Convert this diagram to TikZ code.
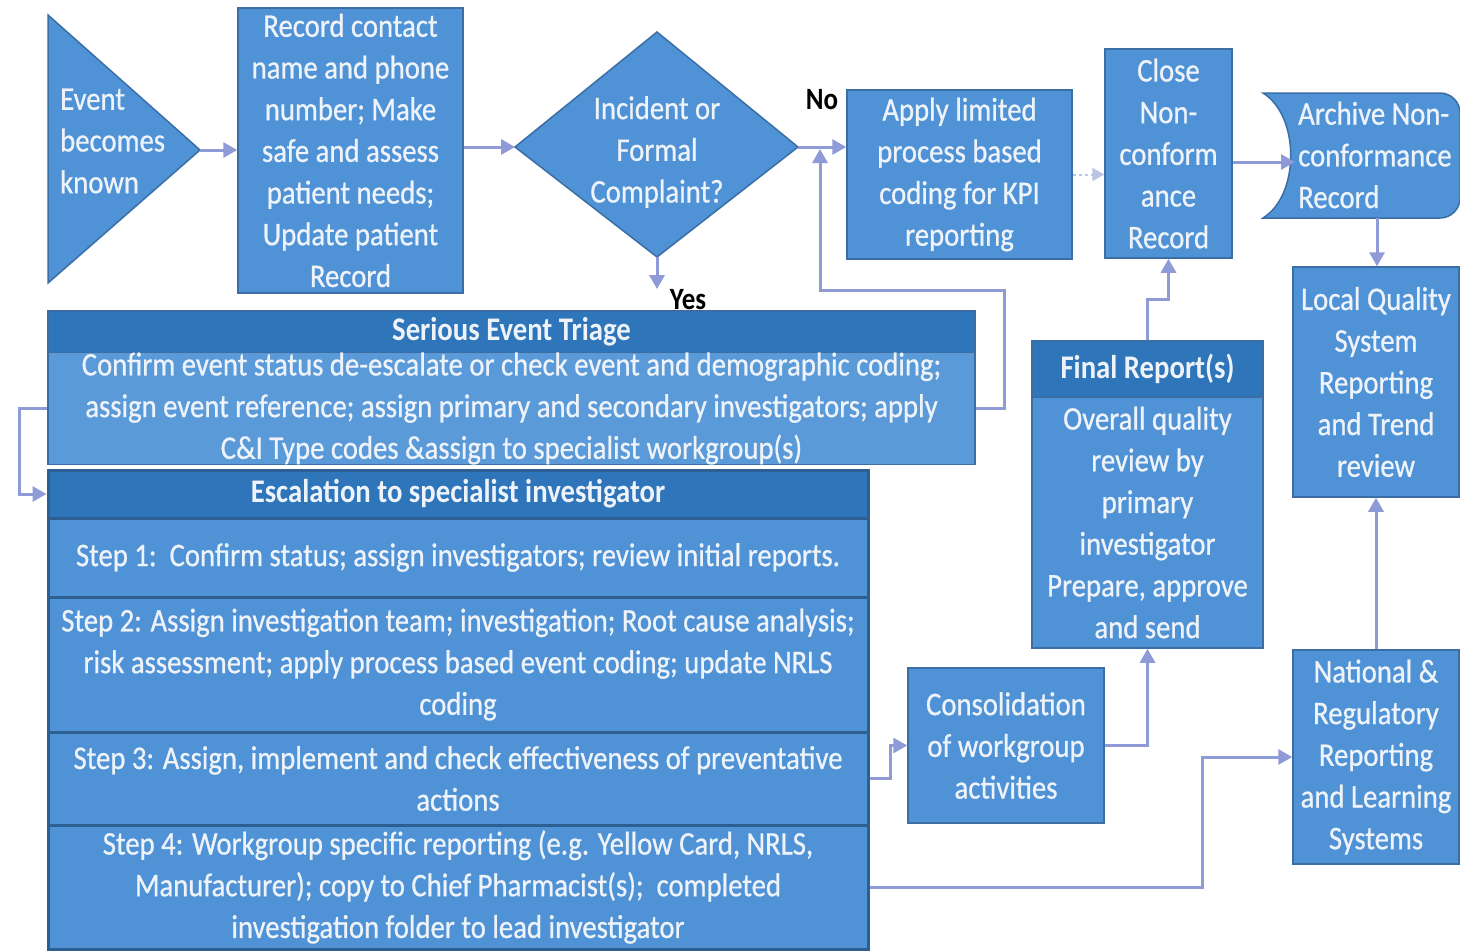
\documentclass[tikz,border=0pt]{standalone}
\usepackage{fontspec}
\setmainfont{Carlito}[FakeStretch=0.87, UprightFeatures={FakeBold=0.7}]
\usetikzlibrary{arrows.meta}
\definecolor{boxfill}{HTML}{5092D6}
\definecolor{boxline}{HTML}{3A6EA5}
\definecolor{headfill}{HTML}{2F75BA}
\definecolor{stepline}{HTML}{2D5F93}
\definecolor{lightbody}{HTML}{5A9AD8}
\definecolor{wire}{HTML}{8E9BD6}
\definecolor{txt}{HTML}{EEF3FA}
\newcommand\bxfont{\fontsize{33}{41.7}\selectfont}
\newcommand\hdfont{\bfseries\fontsize{33}{36}\selectfont}
\begin{document}
\begin{tikzpicture}[x=1pt,y=-1pt,
  shapefill/.style={draw=boxline, line width=1.5pt, fill=boxfill},
  box/.style={shapefill, text=txt, font=\bxfont, align=center, inner sep=0pt},
  headbox/.style={draw=boxline, line width=1.5pt, fill=headfill, text=txt, font=\hdfont, inner sep=0pt},
  stepbox/.style={draw=stepline, line width=3pt, fill=boxfill, text=txt, font=\bxfont, align=center, inner sep=0pt},
  lbl/.style={text=txt, font=\bxfont, inner sep=0pt},
  tag/.style={text=black, font=\bfseries\fontsize{31}{32}\selectfont, inner sep=0pt},
  flow/.style={draw=wire, line width=3pt, -{Triangle[length=14pt,width=15pt]}},
  faintflow/.style={draw=wire!60, line width=2pt, dashed, -{Triangle[length=12pt,width=13pt]}}
]
\useasboundingbox (0,0) rectangle (1460,951);
\fill[white] (0,0) rectangle (1460,951);

% start event
\draw[shapefill] (48,15) -- (200,150) coordinate (evtip) -- (48,283) -- cycle;
\node[lbl, anchor=west, align=left] (evtext) at (60,141) {Event\\becomes\\known};

% first actions
\node[box, minimum width=225pt, minimum height=285pt] (rec) at (350.5,150.5)
  {Record contact\\name and phone\\number; Make\\safe and assess\\patient needs;\\Update patient\\Record};

% decision
\draw[shapefill] (515,147) coordinate (dmleft) -- (657,32) -- (798,147) coordinate (dmright)
  -- (657,257) coordinate (dmbottom) -- cycle;
\node[lbl, align=center] (dmtext) at (657,152) {Incident or\\Formal\\Complaint?};
\node[tag] (notag) at (822,100) {No};
\node[tag] (yestag) at (688,300) {Yes};
\coordinate (yesend) at (657,289);

% no branch
\node[box, minimum width=225pt, minimum height=169pt] (apply) at (959.5,174.5)
  {Apply limited\\process based\\coding for KPI\\reporting};
\node[box, minimum width=127pt, minimum height=209pt] (close) at (1168.5,153.5)
  {Close\\Non-\\conform\\ance\\Record};

% archive (stored data shape: concave left side, rounded right corners)
\draw[shapefill] (1263,93) -- (1440,93) arc[start angle=-90, end angle=0, radius=20]
  -- (1460,198) arc[start angle=0, end angle=90, radius=20] -- (1263,218)
  .. controls (1300,195) and (1300,116) .. (1263,93) -- cycle;
\coordinate (archin) at (1295,162);
\coordinate (archbot) at (1377,218);
\node[lbl, anchor=west, align=left] (archtext) at (1298,155) {Archive Non-\\conformance\\Record};

\node[box, minimum width=166pt, minimum height=230pt] (local) at (1376,382)
  {Local Quality\\System\\Reporting\\and Trend\\review};
\node[box, minimum width=166pt, minimum height=214pt] (nat) at (1376,757)
  {National \&\\Regulatory\\Reporting\\and Learning\\Systems};

% triage
\node[headbox, minimum width=927pt, minimum height=42pt] (trhead) at (511.5,332) {Serious Event Triage};
\node[box, fill=lightbody, minimum width=927pt, minimum height=111pt] (trbody) at (511.5,408.5)
  {Confirm event status de-escalate or check event and demographic coding;\\
   assign event reference; assign primary and secondary investigators; apply\\
   C\&I Type codes \&assign to specialist workgroup(s)};
\coordinate (joinpt) at (820,149);

% escalation
\node[headbox, draw=stepline, line width=3pt, minimum width=820pt, minimum height=48pt] (eshead) at (458,494)
  {Escalation to specialist investigator};
\node[stepbox, minimum width=820pt, minimum height=79pt] (st1) at (458,557.5)
  {Step 1:\ \ Confirm status; assign investigators; review initial reports.};
\node[stepbox, minimum width=820pt, minimum height=135pt] (st2) at (458,664.5)
  {Step 2: Assign investigation team; investigation; Root cause analysis;\\
   risk assessment; apply process based event coding; update NRLS\\coding};
\node[stepbox, minimum width=820pt, minimum height=93pt] (st3) at (458,778.5)
  {Step 3: Assign, implement and check effectiveness of preventative\\actions};
\node[stepbox, minimum width=820pt, minimum height=124pt] (st4) at (458,887)
  {Step 4: Workgroup specific reporting (e.g. Yellow Card, NRLS,\\
   Manufacturer); copy to Chief Pharmacist(s);\ \ completed\\
   investigation folder to lead investigator};

% consolidation and final report
\node[box, minimum width=196pt, minimum height=155pt] (cons) at (1006,745.5)
  {Consolidation\\of workgroup\\activities};
\node[headbox, minimum width=231pt, minimum height=56pt] (frhead) at (1147.5,369) {Final Report(s)};
\node[box, minimum width=231pt, minimum height=251pt] (frbody) at (1147.5,522.5)
  {Overall quality\\review by\\primary\\investigator\\Prepare, approve\\and send};

% connectors
\draw[flow] (evtip) -- (rec.west |- evtip);
\draw[flow] (rec.east |- dmleft) -- (dmleft);
\draw[flow] (dmright) -- (dmright -| apply.west);
\draw[flow] (dmbottom) -- (yesend);
\draw[faintflow] (apply.east) -- (close.west |- apply.east);
\draw[flow] (archin -| close.east) -- (archin);
\draw[flow] (archbot) -- (archbot |- local.north);
\draw[flow] (nat.north) -- (local.south);
\draw[flow] (trbody.east) -- ++(29,0) -- ++(0,-118) -| (joinpt);
\draw[flow] (trbody.west) -- ++(-28,0) |- (eshead.west);
\draw[flow] (st3.east) -- ++(21,0) |- (cons.west);
\draw[flow] (cons.east) -| (frbody.south);
\draw[flow] (frhead.north) -- ++(0,-41) -| (close.south);
\draw[flow] (st4.east) -- ++(333,0) |- (nat.west);
\end{tikzpicture}
\end{document}
